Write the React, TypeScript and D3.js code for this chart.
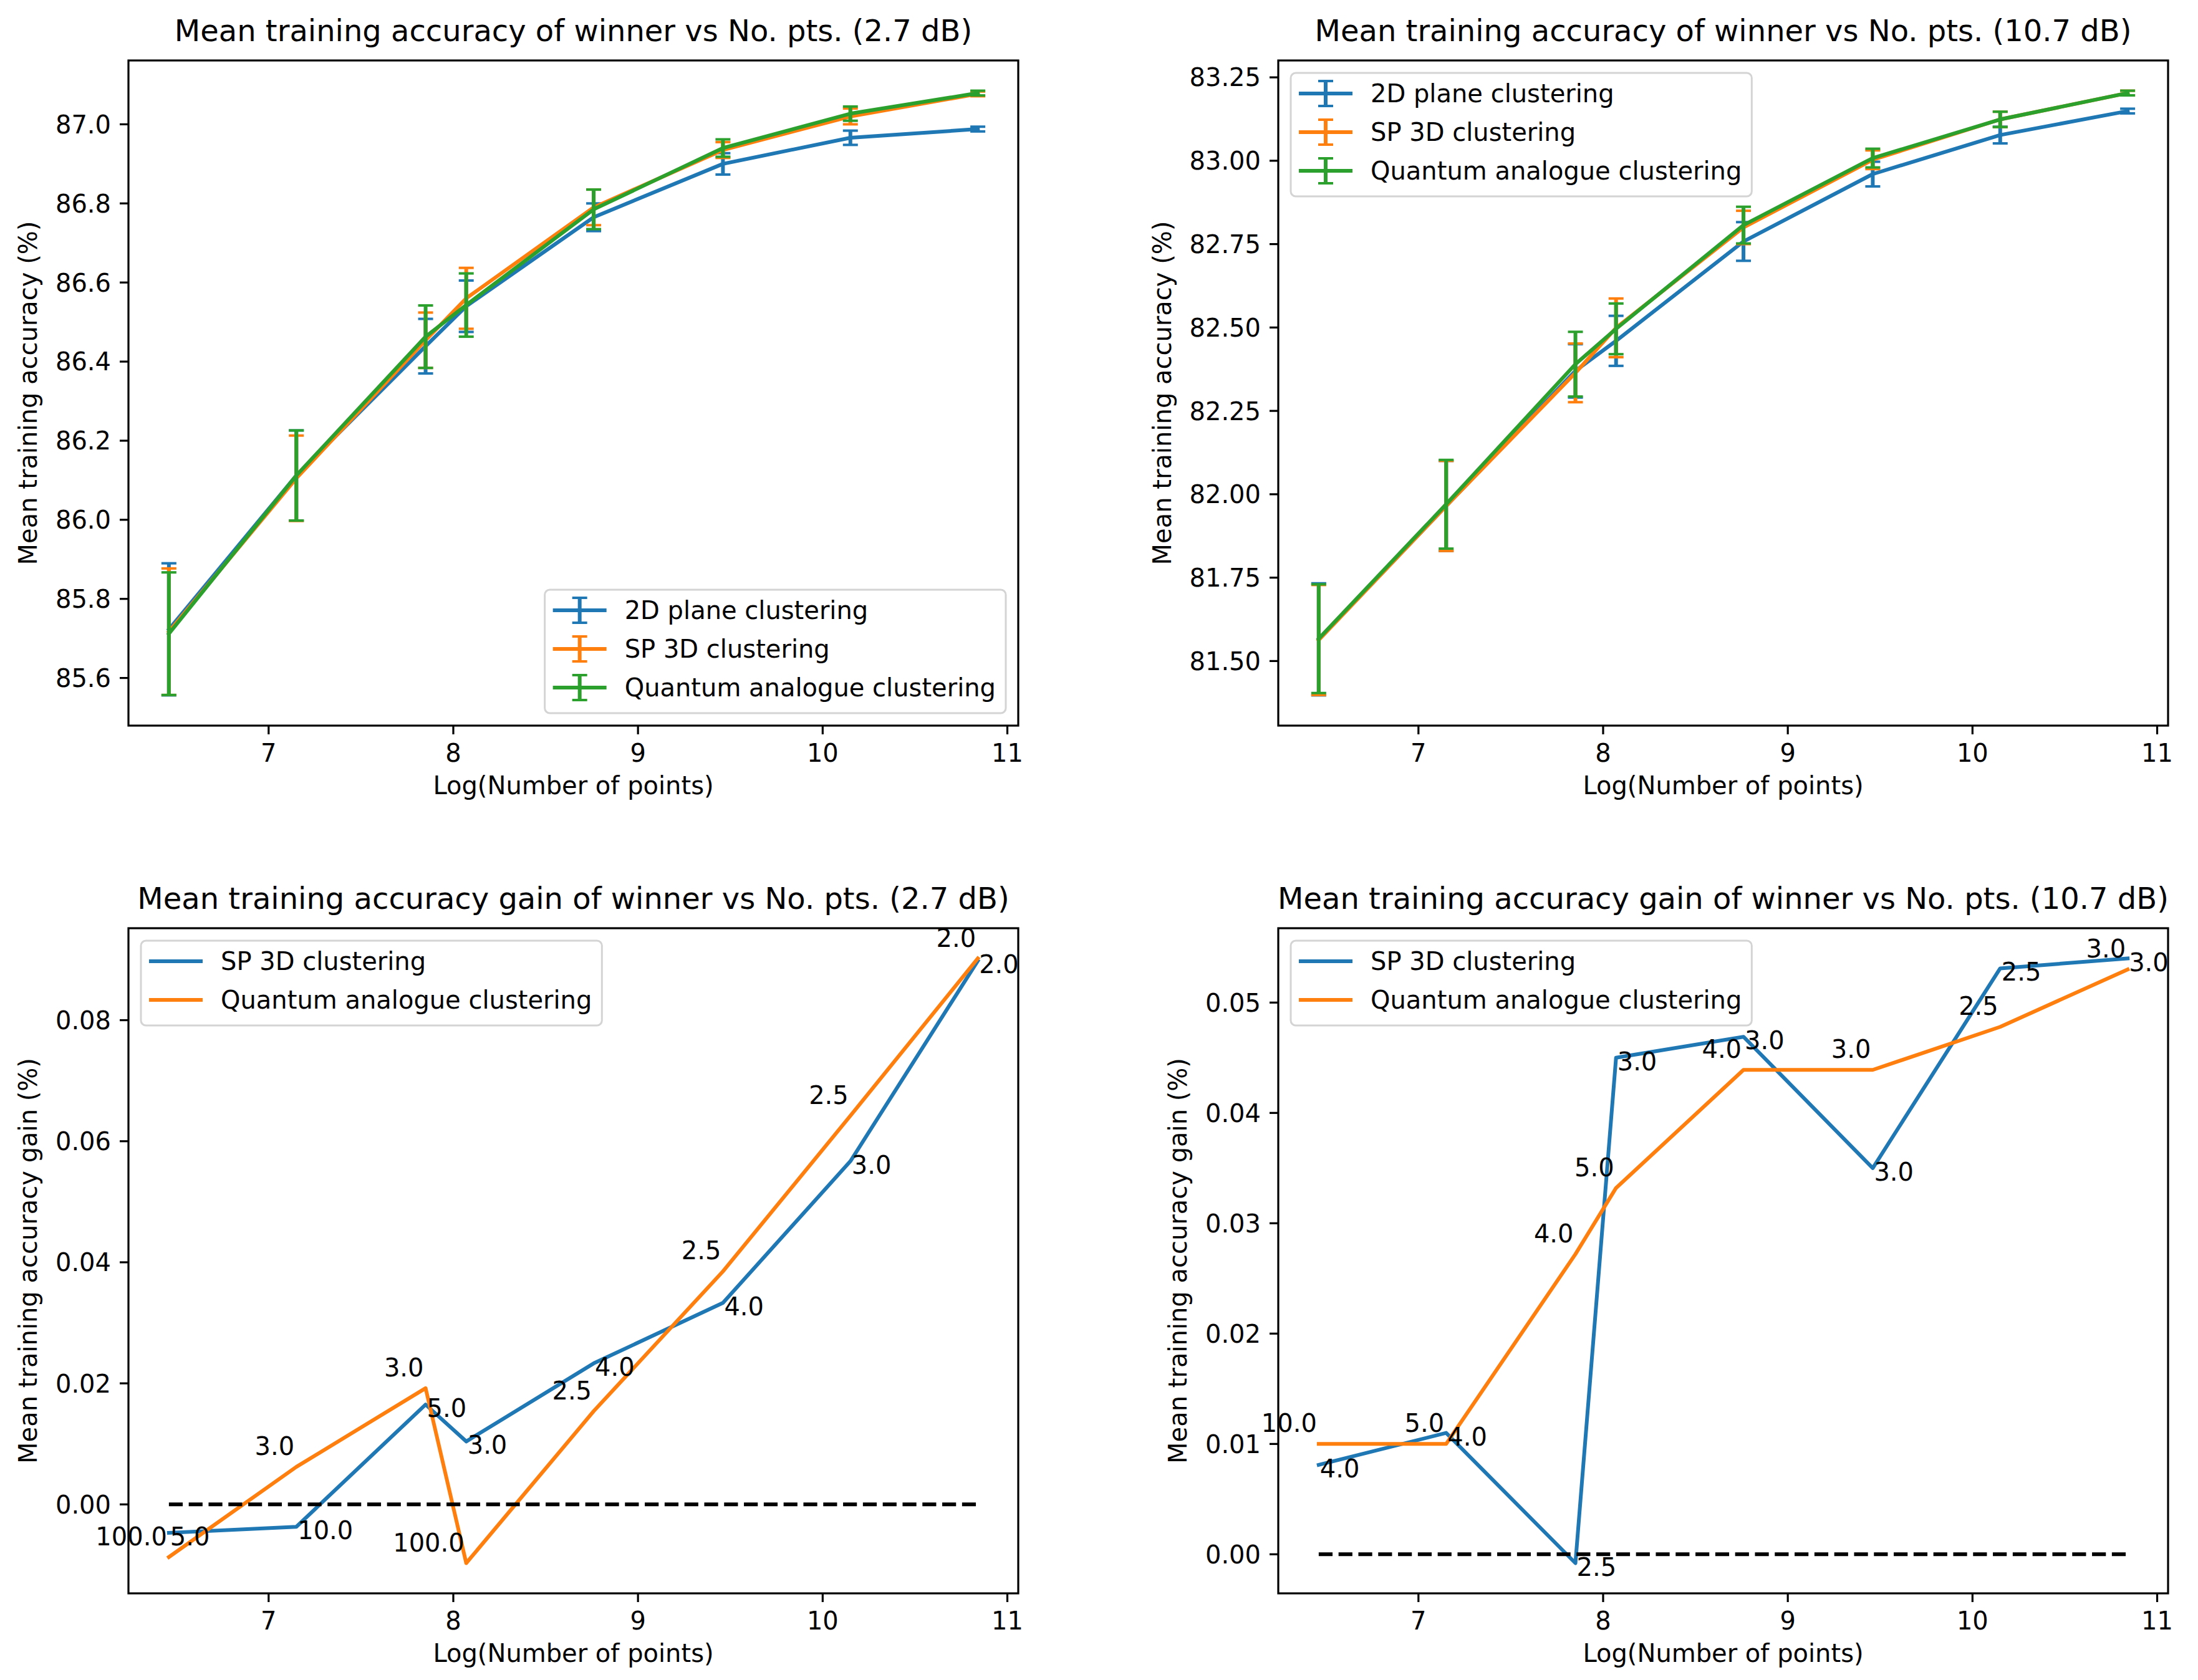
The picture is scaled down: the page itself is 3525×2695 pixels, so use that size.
import * as d3 from 'd3'

// x positions: log of the number of points
const logPts = [6.46, 7.15, 7.85, 8.07, 8.76, 9.46, 10.15, 10.84]
const xTicks = [7, 8, 9, 10, 11]

// mean training accuracy, 2.7 dB
const acc27Plane = [85.723, 86.112, 86.439, 86.54, 86.765, 86.9, 86.966, 86.988]
const acc27PlaneErr = [0.167, 0.114, 0.069, 0.065, 0.035, 0.027, 0.018, 0.006]
const acc27Sp = [85.717, 86.105, 86.454, 86.56, 86.79, 86.935, 87.02, 87.077]
const acc27SpErr = [0.16, 0.108, 0.07, 0.077, 0.045, 0.02, 0.02, 0.006]
const acc27Qa = [85.712, 86.112, 86.463, 86.543, 86.785, 86.94, 87.027, 87.079]
const acc27QaErr = [0.155, 0.114, 0.079, 0.08, 0.05, 0.022, 0.018, 0.006]
const acc27Ticks = [85.6, 85.8, 86.0, 86.2, 86.4, 86.6, 86.8, 87.0]

// mean training accuracy, 10.7 dB
const acc107Plane = [81.565, 81.965, 82.37, 82.46, 82.758, 82.96, 83.077, 83.149]
const acc107PlaneErr = [0.168, 0.135, 0.08, 0.075, 0.058, 0.037, 0.025, 0.007]
const acc107Sp = [81.563, 81.965, 82.364, 82.499, 82.8, 83.003, 83.124, 83.203]
const acc107SpErr = [0.165, 0.135, 0.088, 0.088, 0.05, 0.028, 0.023, 0.007]
const acc107Qa = [81.567, 81.97, 82.39, 82.496, 82.807, 83.008, 83.124, 83.203]
const acc107QaErr = [0.163, 0.133, 0.097, 0.076, 0.055, 0.028, 0.023, 0.007]
const acc107Ticks = [81.5, 81.75, 82.0, 82.25, 82.5, 82.75, 83.0, 83.25]

// mean training accuracy gain, 2.7 dB
const gain27Sp = [-0.0047, -0.0037, 0.0165, 0.0104, 0.0233, 0.0333, 0.0567, 0.0898]
const gain27SpLabels = ['5.0', '10.0', '5.0', '3.0', '4.0', '4.0', '3.0', '2.0']
const gain27Qa = [-0.0087, 0.0062, 0.0192, -0.0097, 0.0154, 0.0385, 0.0642, 0.0902]
const gain27QaLabels = ['100.0', '3.0', '3.0', '100.0', '2.5', '2.5', '2.5', '2.0']
const gain27Ticks = [0, 0.02, 0.04, 0.06, 0.08]

// mean training accuracy gain, 10.7 dB
const gain107Sp = [0.0081, 0.011, -0.0008, 0.045, 0.0469, 0.035, 0.0531, 0.054]
const gain107SpLabels = ['4.0', '4.0', '2.5', '3.0', '3.0', '3.0', '2.5', '3.0']
const gain107Qa = [0.01, 0.01, 0.0272, 0.0332, 0.0439, 0.0439, 0.0478, 0.053]
const gain107QaLabels = ['10.0', '5.0', '4.0', '5.0', '4.0', '3.0', '2.5', '3.0']
const gain107Ticks = [0, 0.01, 0.02, 0.03, 0.04, 0.05]

const zeroLine = logPts.map(() => 0)

const seriesNames = ['2D plane clustering', 'SP 3D clustering', 'Quantum analogue clustering']
const colors = ['#1f77b4', '#ff7f0e', '#2ca02c']

const W = 3525
const H = 2695
const FS = 40
const TFS = 48
const FONT = '"DejaVu Sans", sans-serif'

const ctx = document.createElement('canvas').getContext('2d')!
function textW(s: string, size = FS) {
  ctx.font = `${size}px "DejaVu Sans"`
  return ctx.measureText(s).width
}

interface Box { left: number; top: number; w: number; h: number }

function padded(lo: number, hi: number): [number, number] {
  const r = hi - lo
  return [lo - r * 0.05, hi + r * 0.05]
}

const xScale = (b: Box) =>
  d3.scaleLinear().domain(padded(d3.min(logPts)!, d3.max(logPts)!)).range([b.left, b.left + b.w])

function Frame({ b, y, yTicks, fmt, title, ylabel }: {
  b: Box; y: d3.ScaleLinear<number, number>; yTicks: number[]; fmt: (v: number) => string; title: string; ylabel: string
}) {
  const x = xScale(b)
  const bottom = b.top + b.h
  const tickW = d3.max(yTicks, t => textW(fmt(t)))!
  return (
    <g>
      <rect x={b.left} y={b.top} width={b.w} height={b.h} fill="none" stroke="#000" strokeWidth={3.2} />
      {xTicks.map(t => (
        <g key={t}>
          <line x1={x(t)} x2={x(t)} y1={bottom} y2={bottom + 14} stroke="#000" strokeWidth={3.2} />
          <text x={x(t)} y={bottom + 58} textAnchor="middle">{t}</text>
        </g>
      ))}
      {yTicks.map(t => (
        <g key={t}>
          <line x1={b.left - 14} x2={b.left} y1={y(t)} y2={y(t)} stroke="#000" strokeWidth={3.2} />
          <text x={b.left - 28} y={y(t)} dy="0.36em" textAnchor="end">{fmt(t)}</text>
        </g>
      ))}
      <text x={b.left + b.w / 2} y={bottom + 110} textAnchor="middle">Log(Number of points)</text>
      <text transform={`translate(${b.left - 28 - tickW - 44},${b.top + b.h / 2}) rotate(-90)`}
        dy="0.36em" textAnchor="middle">{ylabel}</text>
      <text x={b.left + b.w / 2} y={b.top - 31} textAnchor="middle" fontSize={TFS}>{title}</text>
    </g>
  )
}

function Legend({ b, names, cols, where, errbar }: {
  b: Box; names: string[]; cols: string[]; where: 'ul' | 'lr'; errbar: boolean
}) {
  const rowH = 42, gap = 20, pad = 16, handle = 80, hpad = 32
  const w = pad + handle + hpad + d3.max(names, n => textW(n))! + pad
  const h = pad * 2 + names.length * rowH + (names.length - 1) * gap
  const left = where === 'ul' ? b.left + 20 : b.left + b.w - 20 - w
  const top = where === 'ul' ? b.top + 20 : b.top + b.h - 20 - h
  return (
    <g>
      <rect x={left} y={top} width={w} height={h} rx={8} fill="#fff" fillOpacity={0.8}
        stroke="#d4d4d4" strokeWidth={3} />
      {names.map((n, i) => {
        const base = top + pad + i * (rowH + gap) + 31
        const cy = base - 14
        const hx = left + pad
        return (
          <g key={n}>
            <line x1={hx} x2={hx + handle} y1={cy} y2={cy} stroke={cols[i]} strokeWidth={6} strokeLinecap="square" />
            {errbar && (
              <g stroke={cols[i]}>
                <line x1={hx + handle / 2} x2={hx + handle / 2} y1={cy - 20} y2={cy + 20} strokeWidth={6} />
                <line x1={hx + handle / 2 - 12} x2={hx + handle / 2 + 12} y1={cy - 20} y2={cy - 20} strokeWidth={4} />
                <line x1={hx + handle / 2 - 12} x2={hx + handle / 2 + 12} y1={cy + 20} y2={cy + 20} strokeWidth={4} />
              </g>
            )}
            <text x={hx + handle + hpad} y={base}>{n}</text>
          </g>
        )
      })}
    </g>
  )
}

function AccPanel({ b, vals, errs, yTicks, title, where }: {
  b: Box; vals: number[][]; errs: number[][]; yTicks: number[]; title: string; where: 'ul' | 'lr'
}) {
  const x = xScale(b)
  const lo = d3.min(vals.flatMap((s, k) => s.map((v, i) => v - errs[k][i])))!
  const hi = d3.max(vals.flatMap((s, k) => s.map((v, i) => v + errs[k][i])))!
  const y = d3.scaleLinear().domain(padded(lo, hi)).range([b.top + b.h, b.top])
  const line = d3.line<number>().x((_, i) => x(logPts[i])).y(d => y(d))
  const digits = yTicks.some(t => Math.abs(t * 10 - Math.round(t * 10)) > 1e-6) ? 2 : 1
  return (
    <g>
      {vals.map((s, k) => (
        <g key={k} stroke={colors[k]} fill="none">
          {s.map((v, i) => {
            const cx = x(logPts[i])
            const y1 = y(v - errs[k][i])
            const y2 = y(v + errs[k][i])
            return (
              <g key={i}>
                <line x1={cx} x2={cx} y1={y1} y2={y2} strokeWidth={6} />
                <line x1={cx - 12} x2={cx + 12} y1={y1} y2={y1} strokeWidth={4} />
                <line x1={cx - 12} x2={cx + 12} y1={y2} y2={y2} strokeWidth={4} />
              </g>
            )
          })}
          <path d={line(s)!} strokeWidth={6} strokeLinejoin="round" strokeLinecap="square" />
        </g>
      ))}
      <Frame b={b} y={y} yTicks={yTicks} fmt={v => v.toFixed(digits)} title={title}
        ylabel="Mean training accuracy (%)" />
      <Legend b={b} names={seriesNames} cols={colors} where={where} errbar />
    </g>
  )
}

function GainPanel({ b, sp, spLabels, qa, qaLabels, yTicks, title }: {
  b: Box; sp: number[]; spLabels: string[]; qa: number[]; qaLabels: string[]; yTicks: number[]; title: string
}) {
  const x = xScale(b)
  const all = [...sp, ...qa, ...zeroLine]
  const y = d3.scaleLinear().domain(padded(d3.min(all)!, d3.max(all)!)).range([b.top + b.h, b.top])
  const line = d3.line<number>().x((_, i) => x(logPts[i])).y(d => y(d))
  return (
    <g>
      <path d={line(sp)!} stroke={colors[0]} strokeWidth={6} fill="none" strokeLinejoin="round" strokeLinecap="square" />
      <path d={line(qa)!} stroke={colors[1]} strokeWidth={6} fill="none" strokeLinejoin="round" strokeLinecap="square" />
      <path d={line(zeroLine)!} stroke="#000" strokeWidth={6} fill="none" strokeDasharray="22.2 9.6" />
      {sp.map((v, i) => (
        <text key={'s' + i} x={x(logPts[i]) + 2} y={y(v) + 20}>{spLabels[i]}</text>
      ))}
      {qa.map((v, i) => (
        <text key={'q' + i} x={x(logPts[i]) - 3} y={y(v) - 19} textAnchor="end">{qaLabels[i]}</text>
      ))}
      <Frame b={b} y={y} yTicks={yTicks} fmt={v => v.toFixed(2)} title={title}
        ylabel="Mean training accuracy gain (%)" />
      <Legend b={b} names={seriesNames.slice(1)} cols={colors.slice(0, 2)} where="ul" errbar={false} />
    </g>
  )
}

export default function App() {
  const tl: Box = { left: 206, top: 97, w: 1427, h: 1067 }
  const tr: Box = { left: 2050, top: 97, w: 1427, h: 1067 }
  const bl: Box = { left: 206, top: 1489, w: 1427, h: 1067 }
  const br: Box = { left: 2050, top: 1489, w: 1427, h: 1067 }
  return (
    <svg width={W} height={H} viewBox={`0 0 ${W} ${H}`}
      style={{ position: 'absolute', left: 0, top: 0, background: '#fff' }}
      fontFamily={FONT} fontSize={FS} fill="#000">
      <rect width={W} height={H} fill="#fff" />
      <AccPanel b={tl} vals={[acc27Plane, acc27Sp, acc27Qa]} errs={[acc27PlaneErr, acc27SpErr, acc27QaErr]}
        yTicks={acc27Ticks} title="Mean training accuracy of winner vs No. pts. (2.7 dB)" where="lr" />
      <AccPanel b={tr} vals={[acc107Plane, acc107Sp, acc107Qa]} errs={[acc107PlaneErr, acc107SpErr, acc107QaErr]}
        yTicks={acc107Ticks} title="Mean training accuracy of winner vs No. pts. (10.7 dB)" where="ul" />
      <GainPanel b={bl} sp={gain27Sp} spLabels={gain27SpLabels} qa={gain27Qa} qaLabels={gain27QaLabels}
        yTicks={gain27Ticks} title="Mean training accuracy gain of winner vs No. pts. (2.7 dB)" />
      <GainPanel b={br} sp={gain107Sp} spLabels={gain107SpLabels} qa={gain107Qa} qaLabels={gain107QaLabels}
        yTicks={gain107Ticks} title="Mean training accuracy gain of winner vs No. pts. (10.7 dB)" />
    </svg>
  )
}
